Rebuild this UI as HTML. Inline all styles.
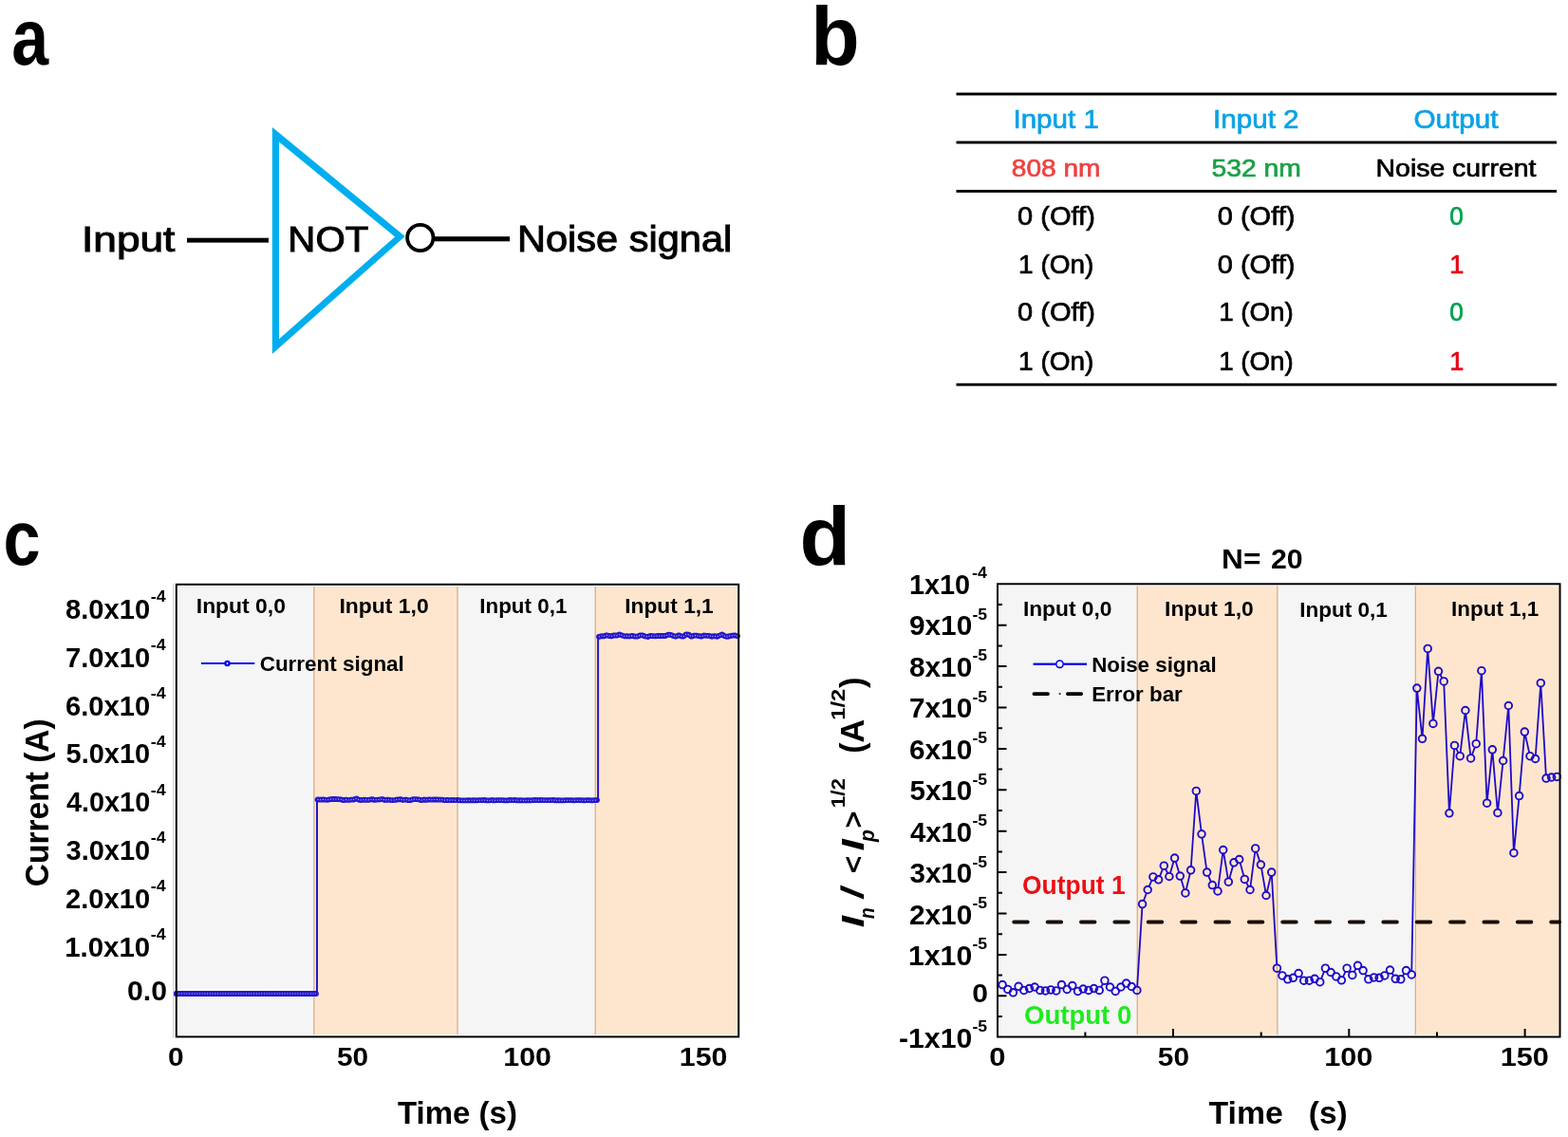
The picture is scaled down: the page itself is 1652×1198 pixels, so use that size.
<!DOCTYPE html>
<html><head><meta charset="utf-8"><title>NOT gate noise logic</title>
<style>html,body{margin:0;padding:0;background:#fff;}svg{display:block;}</style></head>
<body>
<svg width="1652" height="1198" viewBox="0 0 1652 1198" font-family='"Liberation Sans", Arial, sans-serif'>
<rect width="1652" height="1198" fill="#fff"/>
<path d="M286.8,134 L426.7,249 L286.8,373.1 Z M294,149.5 L294,357.3 L416.1,249.4 Z" fill="#00AEEF" fill-rule="evenodd"/>
<rect x="197" y="250.7" width="86" height="4.9" fill="#000"/>
<circle cx="442.8" cy="250.5" r="13.7" fill="none" stroke="#000" stroke-width="3.8"/>
<rect x="458" y="249.2" width="79" height="5.1" fill="#000"/>
<rect x="1007.5" y="97.6" width="632.5" height="2.9" fill="#000"/>
<rect x="1007.5" y="148.6" width="632.5" height="2.9" fill="#000"/>
<rect x="1007.5" y="200.0" width="632.5" height="2.9" fill="#000"/>
<rect x="1007.5" y="403.8" width="632.5" height="2.9" fill="#000"/>
<rect x="188.00" y="618.00" width="142.80" height="472.10" fill="#F5F5F5"/>
<rect x="330.80" y="618.00" width="151.20" height="472.10" fill="#FEE6CE"/>
<rect x="482.00" y="618.00" width="145.20" height="472.10" fill="#F5F5F5"/>
<rect x="627.20" y="618.00" width="149.80" height="472.10" fill="#FEE6CE"/>
<rect x="330.20" y="618.0" width="1.3" height="472.10000000000014" fill="#D9AF86"/>
<rect x="481.40" y="618.0" width="1.3" height="472.10000000000014" fill="#D9AF86"/>
<rect x="626.60" y="618.0" width="1.3" height="472.10000000000014" fill="#D9AF86"/>
<rect x="1053.20" y="617.50" width="145.00" height="472.70" fill="#F5F5F5"/>
<rect x="1198.20" y="617.50" width="147.50" height="472.70" fill="#FEE6CE"/>
<rect x="1345.70" y="617.50" width="145.60" height="472.70" fill="#F5F5F5"/>
<rect x="1491.30" y="617.50" width="151.00" height="472.70" fill="#FEE6CE"/>
<rect x="1197.60" y="617.5" width="1.3" height="472.70000000000005" fill="#D9AF86"/>
<rect x="1345.10" y="617.5" width="1.3" height="472.70000000000005" fill="#D9AF86"/>
<rect x="1490.70" y="617.5" width="1.3" height="472.70000000000005" fill="#D9AF86"/>
<polyline points="185.5,1047.0 188.2,1047.0 191.0,1047.0 193.7,1047.0 196.4,1047.0 199.2,1047.0 201.9,1047.0 204.6,1047.0 207.4,1047.0 210.1,1047.0 212.8,1047.0 215.5,1047.0 218.3,1047.0 221.0,1047.0 223.7,1047.0 226.5,1047.0 229.2,1047.0 231.9,1047.0 234.7,1047.0 237.4,1047.0 240.1,1047.0 242.9,1047.0 245.6,1047.0 248.3,1047.0 251.1,1047.0 253.8,1047.0 256.5,1047.0 259.2,1047.0 262.0,1047.0 264.7,1047.0 267.4,1047.0 270.2,1047.0 272.9,1047.0 275.6,1047.0 278.4,1047.0 281.1,1047.0 283.8,1047.0 286.6,1047.0 289.3,1047.0 292.0,1047.0 294.8,1047.0 297.5,1047.0 300.2,1047.0 303.0,1047.0 305.7,1047.0 308.4,1047.0 311.1,1047.0 313.9,1047.0 316.6,1047.0 319.3,1047.0 322.1,1047.0 324.8,1047.0 327.5,1047.0 330.3,1047.0 333.0,1047.0 334.0,1047.0 334.0,842.6 334.5,842.3 337.2,842.7 340.0,842.4 342.7,842.7 345.4,842.8 348.2,842.1 350.9,842.0 353.6,842.0 356.4,842.1 359.1,842.3 361.8,843.2 364.5,842.6 367.3,843.0 370.0,842.6 372.7,842.5 375.5,841.3 378.2,842.8 380.9,843.0 383.7,842.6 386.4,842.9 389.1,842.8 391.9,842.1 394.6,842.9 397.3,842.7 400.1,842.4 402.8,842.0 405.5,843.0 408.2,842.6 411.0,842.9 413.7,843.1 416.4,842.9 419.2,842.4 421.9,842.1 424.6,843.0 427.4,842.5 430.1,843.1 432.8,843.1 435.6,842.1 438.3,842.2 441.0,842.3 443.8,843.2 446.5,842.5 449.2,842.8 452.0,842.4 454.7,842.6 457.4,842.5 460.1,842.4 462.9,842.7 465.6,842.7 468.3,843.1 471.1,842.8 473.8,843.1 476.5,843.0 479.3,843.2 482.0,842.8 483.0,843.1 485.7,843.3 488.4,843.4 491.1,843.4 493.8,843.2 496.5,843.3 499.2,843.1 501.9,843.3 504.6,843.2 507.3,843.1 510.0,843.0 512.7,843.3 515.4,843.4 518.1,843.0 520.9,843.3 523.6,843.2 526.3,843.1 529.0,843.1 531.7,843.3 534.4,843.3 537.1,843.0 539.8,843.2 542.5,843.0 545.2,843.3 547.9,843.1 550.6,843.4 553.3,843.4 556.0,843.2 558.7,843.4 561.4,843.1 564.1,843.0 566.8,843.2 569.5,843.0 572.2,843.1 574.9,843.2 577.6,843.2 580.3,843.1 583.0,843.0 585.7,843.3 588.4,843.1 591.1,843.4 593.9,843.4 596.6,843.2 599.3,843.2 602.0,843.2 604.7,843.3 607.4,843.2 610.1,843.2 612.8,843.2 615.5,843.4 618.2,843.2 620.9,843.2 623.6,843.3 626.3,843.1 629.0,843.1 630.1,843.2 630.1,670.2 631.0,671.1 633.7,670.2 636.4,670.3 639.1,669.3 641.8,670.0 644.5,670.3 647.2,669.3 649.9,669.6 652.6,668.5 655.3,669.4 658.0,670.4 660.7,670.1 663.4,670.5 666.1,669.9 668.9,670.6 671.6,670.6 674.3,669.3 677.0,669.4 679.7,670.5 682.4,671.0 685.1,669.8 687.8,670.1 690.5,670.4 693.2,669.9 695.9,670.0 698.6,669.9 701.3,670.0 704.0,668.7 706.7,668.8 709.4,670.0 712.1,670.7 714.8,669.3 717.5,670.3 720.2,670.6 722.9,668.3 725.6,668.6 728.3,670.7 731.0,669.7 733.7,669.6 736.4,670.1 739.1,670.6 741.9,669.5 744.6,669.9 747.3,669.9 750.0,670.8 752.7,670.1 755.4,670.8 758.1,669.6 760.8,668.5 763.5,670.2 766.2,670.9 768.9,670.1 771.6,669.7 774.3,669.5 777.0,670.3" fill="none" stroke="#2418CC" stroke-width="2"/>
<polyline points="185.5,1047.0 188.2,1047.0 191.0,1047.0 193.7,1047.0 196.4,1047.0 199.2,1047.0 201.9,1047.0 204.6,1047.0 207.4,1047.0 210.1,1047.0 212.8,1047.0 215.5,1047.0 218.3,1047.0 221.0,1047.0 223.7,1047.0 226.5,1047.0 229.2,1047.0 231.9,1047.0 234.7,1047.0 237.4,1047.0 240.1,1047.0 242.9,1047.0 245.6,1047.0 248.3,1047.0 251.1,1047.0 253.8,1047.0 256.5,1047.0 259.2,1047.0 262.0,1047.0 264.7,1047.0 267.4,1047.0 270.2,1047.0 272.9,1047.0 275.6,1047.0 278.4,1047.0 281.1,1047.0 283.8,1047.0 286.6,1047.0 289.3,1047.0 292.0,1047.0 294.8,1047.0 297.5,1047.0 300.2,1047.0 303.0,1047.0 305.7,1047.0 308.4,1047.0 311.1,1047.0 313.9,1047.0 316.6,1047.0 319.3,1047.0 322.1,1047.0 324.8,1047.0 327.5,1047.0 330.3,1047.0 333.0,1047.0" fill="none" stroke="#2418CC" stroke-width="5.8" stroke-linecap="round" stroke-linejoin="round"/>
<polyline points="185.5,1047.0 188.2,1047.0 191.0,1047.0 193.7,1047.0 196.4,1047.0 199.2,1047.0 201.9,1047.0 204.6,1047.0 207.4,1047.0 210.1,1047.0 212.8,1047.0 215.5,1047.0 218.3,1047.0 221.0,1047.0 223.7,1047.0 226.5,1047.0 229.2,1047.0 231.9,1047.0 234.7,1047.0 237.4,1047.0 240.1,1047.0 242.9,1047.0 245.6,1047.0 248.3,1047.0 251.1,1047.0 253.8,1047.0 256.5,1047.0 259.2,1047.0 262.0,1047.0 264.7,1047.0 267.4,1047.0 270.2,1047.0 272.9,1047.0 275.6,1047.0 278.4,1047.0 281.1,1047.0 283.8,1047.0 286.6,1047.0 289.3,1047.0 292.0,1047.0 294.8,1047.0 297.5,1047.0 300.2,1047.0 303.0,1047.0 305.7,1047.0 308.4,1047.0 311.1,1047.0 313.9,1047.0 316.6,1047.0 319.3,1047.0 322.1,1047.0 324.8,1047.0 327.5,1047.0 330.3,1047.0 333.0,1047.0" fill="none" stroke="#fff" stroke-opacity="0.75" stroke-width="1.1" stroke-dasharray="1 1.72"/>
<polyline points="334.5,842.3 337.2,842.7 340.0,842.4 342.7,842.7 345.4,842.8 348.2,842.1 350.9,842.0 353.6,842.0 356.4,842.1 359.1,842.3 361.8,843.2 364.5,842.6 367.3,843.0 370.0,842.6 372.7,842.5 375.5,841.3 378.2,842.8 380.9,843.0 383.7,842.6 386.4,842.9 389.1,842.8 391.9,842.1 394.6,842.9 397.3,842.7 400.1,842.4 402.8,842.0 405.5,843.0 408.2,842.6 411.0,842.9 413.7,843.1 416.4,842.9 419.2,842.4 421.9,842.1 424.6,843.0 427.4,842.5 430.1,843.1 432.8,843.1 435.6,842.1 438.3,842.2 441.0,842.3 443.8,843.2 446.5,842.5 449.2,842.8 452.0,842.4 454.7,842.6 457.4,842.5 460.1,842.4 462.9,842.7 465.6,842.7 468.3,843.1 471.1,842.8 473.8,843.1 476.5,843.0 479.3,843.2 482.0,842.8" fill="none" stroke="#2418CC" stroke-width="5.8" stroke-linecap="round" stroke-linejoin="round"/>
<polyline points="334.5,842.3 337.2,842.7 340.0,842.4 342.7,842.7 345.4,842.8 348.2,842.1 350.9,842.0 353.6,842.0 356.4,842.1 359.1,842.3 361.8,843.2 364.5,842.6 367.3,843.0 370.0,842.6 372.7,842.5 375.5,841.3 378.2,842.8 380.9,843.0 383.7,842.6 386.4,842.9 389.1,842.8 391.9,842.1 394.6,842.9 397.3,842.7 400.1,842.4 402.8,842.0 405.5,843.0 408.2,842.6 411.0,842.9 413.7,843.1 416.4,842.9 419.2,842.4 421.9,842.1 424.6,843.0 427.4,842.5 430.1,843.1 432.8,843.1 435.6,842.1 438.3,842.2 441.0,842.3 443.8,843.2 446.5,842.5 449.2,842.8 452.0,842.4 454.7,842.6 457.4,842.5 460.1,842.4 462.9,842.7 465.6,842.7 468.3,843.1 471.1,842.8 473.8,843.1 476.5,843.0 479.3,843.2 482.0,842.8" fill="none" stroke="#fff" stroke-opacity="0.75" stroke-width="1.1" stroke-dasharray="1 1.72"/>
<polyline points="483.0,843.1 485.7,843.3 488.4,843.4 491.1,843.4 493.8,843.2 496.5,843.3 499.2,843.1 501.9,843.3 504.6,843.2 507.3,843.1 510.0,843.0 512.7,843.3 515.4,843.4 518.1,843.0 520.9,843.3 523.6,843.2 526.3,843.1 529.0,843.1 531.7,843.3 534.4,843.3 537.1,843.0 539.8,843.2 542.5,843.0 545.2,843.3 547.9,843.1 550.6,843.4 553.3,843.4 556.0,843.2 558.7,843.4 561.4,843.1 564.1,843.0 566.8,843.2 569.5,843.0 572.2,843.1 574.9,843.2 577.6,843.2 580.3,843.1 583.0,843.0 585.7,843.3 588.4,843.1 591.1,843.4 593.9,843.4 596.6,843.2 599.3,843.2 602.0,843.2 604.7,843.3 607.4,843.2 610.1,843.2 612.8,843.2 615.5,843.4 618.2,843.2 620.9,843.2 623.6,843.3 626.3,843.1 629.0,843.1" fill="none" stroke="#2418CC" stroke-width="5.8" stroke-linecap="round" stroke-linejoin="round"/>
<polyline points="483.0,843.1 485.7,843.3 488.4,843.4 491.1,843.4 493.8,843.2 496.5,843.3 499.2,843.1 501.9,843.3 504.6,843.2 507.3,843.1 510.0,843.0 512.7,843.3 515.4,843.4 518.1,843.0 520.9,843.3 523.6,843.2 526.3,843.1 529.0,843.1 531.7,843.3 534.4,843.3 537.1,843.0 539.8,843.2 542.5,843.0 545.2,843.3 547.9,843.1 550.6,843.4 553.3,843.4 556.0,843.2 558.7,843.4 561.4,843.1 564.1,843.0 566.8,843.2 569.5,843.0 572.2,843.1 574.9,843.2 577.6,843.2 580.3,843.1 583.0,843.0 585.7,843.3 588.4,843.1 591.1,843.4 593.9,843.4 596.6,843.2 599.3,843.2 602.0,843.2 604.7,843.3 607.4,843.2 610.1,843.2 612.8,843.2 615.5,843.4 618.2,843.2 620.9,843.2 623.6,843.3 626.3,843.1 629.0,843.1" fill="none" stroke="#fff" stroke-opacity="0.75" stroke-width="1.1" stroke-dasharray="1 1.72"/>
<polyline points="631.0,671.1 633.7,670.2 636.4,670.3 639.1,669.3 641.8,670.0 644.5,670.3 647.2,669.3 649.9,669.6 652.6,668.5 655.3,669.4 658.0,670.4 660.7,670.1 663.4,670.5 666.1,669.9 668.9,670.6 671.6,670.6 674.3,669.3 677.0,669.4 679.7,670.5 682.4,671.0 685.1,669.8 687.8,670.1 690.5,670.4 693.2,669.9 695.9,670.0 698.6,669.9 701.3,670.0 704.0,668.7 706.7,668.8 709.4,670.0 712.1,670.7 714.8,669.3 717.5,670.3 720.2,670.6 722.9,668.3 725.6,668.6 728.3,670.7 731.0,669.7 733.7,669.6 736.4,670.1 739.1,670.6 741.9,669.5 744.6,669.9 747.3,669.9 750.0,670.8 752.7,670.1 755.4,670.8 758.1,669.6 760.8,668.5 763.5,670.2 766.2,670.9 768.9,670.1 771.6,669.7 774.3,669.5 777.0,670.3" fill="none" stroke="#2418CC" stroke-width="5.8" stroke-linecap="round" stroke-linejoin="round"/>
<polyline points="631.0,671.1 633.7,670.2 636.4,670.3 639.1,669.3 641.8,670.0 644.5,670.3 647.2,669.3 649.9,669.6 652.6,668.5 655.3,669.4 658.0,670.4 660.7,670.1 663.4,670.5 666.1,669.9 668.9,670.6 671.6,670.6 674.3,669.3 677.0,669.4 679.7,670.5 682.4,671.0 685.1,669.8 687.8,670.1 690.5,670.4 693.2,669.9 695.9,670.0 698.6,669.9 701.3,670.0 704.0,668.7 706.7,668.8 709.4,670.0 712.1,670.7 714.8,669.3 717.5,670.3 720.2,670.6 722.9,668.3 725.6,668.6 728.3,670.7 731.0,669.7 733.7,669.6 736.4,670.1 739.1,670.6 741.9,669.5 744.6,669.9 747.3,669.9 750.0,670.8 752.7,670.1 755.4,670.8 758.1,669.6 760.8,668.5 763.5,670.2 766.2,670.9 768.9,670.1 771.6,669.7 774.3,669.5 777.0,670.3" fill="none" stroke="#fff" stroke-opacity="0.75" stroke-width="1.1" stroke-dasharray="1 1.72"/>
<rect x="211.9" y="698" width="56.4" height="1.9" fill="#0000F0"/>
<circle cx="239.5" cy="698.9" r="2.1" fill="#fff" stroke="#0000F0" stroke-width="2.3"/>
<path d="M1051,1071.0h5 M1051,1049.3h9.5 M1051,1027.6h5 M1051,1005.9h9.5 M1051,984.2h5 M1051,962.5h9.5 M1051,940.8h5 M1051,919.1h9.5 M1051,897.4h5 M1051,875.7h9.5 M1051,854.0h5 M1051,832.3h9.5 M1051,810.6h5 M1051,788.9h9.5 M1051,767.2h5 M1051,745.5h9.5 M1051,723.8h5 M1051,702.1h9.5 M1051,680.4h5 M1051,658.7h9.5 M1051,637.0h5 M1143.4,1092.5v-5 M1236.0,1092.5v-8.5 M1328.7,1092.5v-5 M1421.3,1092.5v-8.5 M1514.0,1092.5v-5 M1606.6,1092.5v-8.5" stroke="#000" stroke-width="2" fill="none"/>
<line x1="1068.2" y1="971.5" x2="1643" y2="971.5" stroke="#1a0d05" stroke-width="3.8" stroke-linecap="round" stroke-dasharray="14.6 20.77"/>
<mask id="m" maskUnits="userSpaceOnUse" x="1040" y="600" width="612" height="500"><rect x="1040" y="600" width="612" height="500" fill="#fff"/><circle cx="1056.1" cy="1037.6" r="3.8" fill="#000"/><circle cx="1061.8" cy="1042.4" r="3.8" fill="#000"/><circle cx="1067.4" cy="1045.8" r="3.8" fill="#000"/><circle cx="1073.1" cy="1039.3" r="3.8" fill="#000"/><circle cx="1078.8" cy="1043.4" r="3.8" fill="#000"/><circle cx="1084.5" cy="1041.5" r="3.8" fill="#000"/><circle cx="1090.1" cy="1040.0" r="3.8" fill="#000"/><circle cx="1095.8" cy="1043.4" r="3.8" fill="#000"/><circle cx="1101.5" cy="1043.9" r="3.8" fill="#000"/><circle cx="1107.1" cy="1042.9" r="3.8" fill="#000"/><circle cx="1112.8" cy="1043.9" r="3.8" fill="#000"/><circle cx="1118.5" cy="1037.6" r="3.8" fill="#000"/><circle cx="1124.2" cy="1042.4" r="3.8" fill="#000"/><circle cx="1129.8" cy="1038.6" r="3.8" fill="#000"/><circle cx="1135.5" cy="1044.4" r="3.8" fill="#000"/><circle cx="1141.2" cy="1042.0" r="3.8" fill="#000"/><circle cx="1146.9" cy="1043.4" r="3.8" fill="#000"/><circle cx="1152.5" cy="1041.5" r="3.8" fill="#000"/><circle cx="1158.2" cy="1043.4" r="3.8" fill="#000"/><circle cx="1163.9" cy="1033.2" r="3.8" fill="#000"/><circle cx="1169.5" cy="1040.0" r="3.8" fill="#000"/><circle cx="1175.2" cy="1044.4" r="3.8" fill="#000"/><circle cx="1180.9" cy="1040.0" r="3.8" fill="#000"/><circle cx="1186.6" cy="1036.1" r="3.8" fill="#000"/><circle cx="1192.2" cy="1039.5" r="3.8" fill="#000"/><circle cx="1197.9" cy="1043.4" r="3.8" fill="#000"/><circle cx="1203.6" cy="952.6" r="3.8" fill="#000"/><circle cx="1209.2" cy="937.5" r="3.8" fill="#000"/><circle cx="1214.9" cy="923.9" r="3.8" fill="#000"/><circle cx="1220.6" cy="926.8" r="3.8" fill="#000"/><circle cx="1226.3" cy="912.2" r="3.8" fill="#000"/><circle cx="1231.9" cy="923.5" r="3.8" fill="#000"/><circle cx="1237.6" cy="904.1" r="3.8" fill="#000"/><circle cx="1243.3" cy="923.1" r="3.8" fill="#000"/><circle cx="1248.9" cy="940.9" r="3.8" fill="#000"/><circle cx="1254.6" cy="916.8" r="3.8" fill="#000"/><circle cx="1260.3" cy="833.4" r="3.8" fill="#000"/><circle cx="1266.0" cy="878.8" r="3.8" fill="#000"/><circle cx="1271.6" cy="919.1" r="3.8" fill="#000"/><circle cx="1277.3" cy="932.6" r="3.8" fill="#000"/><circle cx="1283.0" cy="938.9" r="3.8" fill="#000"/><circle cx="1288.7" cy="895.5" r="3.8" fill="#000"/><circle cx="1294.3" cy="929.2" r="3.8" fill="#000"/><circle cx="1300.0" cy="908.8" r="3.8" fill="#000"/><circle cx="1305.7" cy="905.5" r="3.8" fill="#000"/><circle cx="1311.3" cy="926.4" r="3.8" fill="#000"/><circle cx="1317.0" cy="937.5" r="3.8" fill="#000"/><circle cx="1322.7" cy="893.9" r="3.8" fill="#000"/><circle cx="1328.4" cy="911.1" r="3.8" fill="#000"/><circle cx="1334.0" cy="943.5" r="3.8" fill="#000"/><circle cx="1339.7" cy="919.1" r="3.8" fill="#000"/><circle cx="1345.4" cy="1020.2" r="3.8" fill="#000"/><circle cx="1351.0" cy="1027.9" r="3.8" fill="#000"/><circle cx="1356.7" cy="1031.8" r="3.8" fill="#000"/><circle cx="1362.4" cy="1030.3" r="3.8" fill="#000"/><circle cx="1368.1" cy="1025.5" r="3.8" fill="#000"/><circle cx="1373.7" cy="1033.2" r="3.8" fill="#000"/><circle cx="1379.4" cy="1033.2" r="3.8" fill="#000"/><circle cx="1385.1" cy="1031.3" r="3.8" fill="#000"/><circle cx="1390.7" cy="1034.7" r="3.8" fill="#000"/><circle cx="1396.4" cy="1020.2" r="3.8" fill="#000"/><circle cx="1402.1" cy="1024.5" r="3.8" fill="#000"/><circle cx="1407.8" cy="1028.9" r="3.8" fill="#000"/><circle cx="1413.4" cy="1032.8" r="3.8" fill="#000"/><circle cx="1419.1" cy="1020.2" r="3.8" fill="#000"/><circle cx="1424.8" cy="1027.4" r="3.8" fill="#000"/><circle cx="1430.5" cy="1017.3" r="3.8" fill="#000"/><circle cx="1436.1" cy="1022.6" r="3.8" fill="#000"/><circle cx="1441.8" cy="1031.8" r="3.8" fill="#000"/><circle cx="1447.5" cy="1029.9" r="3.8" fill="#000"/><circle cx="1453.1" cy="1030.3" r="3.8" fill="#000"/><circle cx="1458.8" cy="1027.9" r="3.8" fill="#000"/><circle cx="1464.5" cy="1022.1" r="3.8" fill="#000"/><circle cx="1470.2" cy="1031.3" r="3.8" fill="#000"/><circle cx="1475.8" cy="1031.8" r="3.8" fill="#000"/><circle cx="1481.5" cy="1022.6" r="3.8" fill="#000"/><circle cx="1487.2" cy="1026.9" r="3.8" fill="#000"/><circle cx="1492.8" cy="725.1" r="3.8" fill="#000"/><circle cx="1498.5" cy="778.3" r="3.8" fill="#000"/><circle cx="1504.2" cy="683.4" r="3.8" fill="#000"/><circle cx="1509.9" cy="762.4" r="3.8" fill="#000"/><circle cx="1515.5" cy="707.3" r="3.8" fill="#000"/><circle cx="1521.2" cy="717.9" r="3.8" fill="#000"/><circle cx="1526.9" cy="856.8" r="3.8" fill="#000"/><circle cx="1532.5" cy="785.4" r="3.8" fill="#000"/><circle cx="1538.2" cy="796.7" r="3.8" fill="#000"/><circle cx="1543.9" cy="748.5" r="3.8" fill="#000"/><circle cx="1549.6" cy="798.9" r="3.8" fill="#000"/><circle cx="1555.2" cy="783.7" r="3.8" fill="#000"/><circle cx="1560.9" cy="706.7" r="3.8" fill="#000"/><circle cx="1566.6" cy="846.2" r="3.8" fill="#000"/><circle cx="1572.3" cy="789.8" r="3.8" fill="#000"/><circle cx="1577.9" cy="856.4" r="3.8" fill="#000"/><circle cx="1583.6" cy="801.5" r="3.8" fill="#000"/><circle cx="1589.3" cy="743.5" r="3.8" fill="#000"/><circle cx="1594.9" cy="898.7" r="3.8" fill="#000"/><circle cx="1600.6" cy="838.6" r="3.8" fill="#000"/><circle cx="1606.3" cy="771.1" r="3.8" fill="#000"/><circle cx="1612.0" cy="796.7" r="3.8" fill="#000"/><circle cx="1617.6" cy="799.5" r="3.8" fill="#000"/><circle cx="1623.3" cy="719.7" r="3.8" fill="#000"/><circle cx="1629.0" cy="820.1" r="3.8" fill="#000"/><circle cx="1634.6" cy="819.0" r="3.8" fill="#000"/><circle cx="1640.3" cy="818.4" r="3.8" fill="#000"/></mask>
<polyline points="1056.1,1037.6 1061.8,1042.4 1067.4,1045.8 1073.1,1039.3 1078.8,1043.4 1084.5,1041.5 1090.1,1040.0 1095.8,1043.4 1101.5,1043.9 1107.1,1042.9 1112.8,1043.9 1118.5,1037.6 1124.2,1042.4 1129.8,1038.6 1135.5,1044.4 1141.2,1042.0 1146.9,1043.4 1152.5,1041.5 1158.2,1043.4 1163.9,1033.2 1169.5,1040.0 1175.2,1044.4 1180.9,1040.0 1186.6,1036.1 1192.2,1039.5 1197.9,1043.4 1203.6,952.6 1209.2,937.5 1214.9,923.9 1220.6,926.8 1226.3,912.2 1231.9,923.5 1237.6,904.1 1243.3,923.1 1248.9,940.9 1254.6,916.8 1260.3,833.4 1266.0,878.8 1271.6,919.1 1277.3,932.6 1283.0,938.9 1288.7,895.5 1294.3,929.2 1300.0,908.8 1305.7,905.5 1311.3,926.4 1317.0,937.5 1322.7,893.9 1328.4,911.1 1334.0,943.5 1339.7,919.1 1345.4,1020.2 1351.0,1027.9 1356.7,1031.8 1362.4,1030.3 1368.1,1025.5 1373.7,1033.2 1379.4,1033.2 1385.1,1031.3 1390.7,1034.7 1396.4,1020.2 1402.1,1024.5 1407.8,1028.9 1413.4,1032.8 1419.1,1020.2 1424.8,1027.4 1430.5,1017.3 1436.1,1022.6 1441.8,1031.8 1447.5,1029.9 1453.1,1030.3 1458.8,1027.9 1464.5,1022.1 1470.2,1031.3 1475.8,1031.8 1481.5,1022.6 1487.2,1026.9 1492.8,725.1 1498.5,778.3 1504.2,683.4 1509.9,762.4 1515.5,707.3 1521.2,717.9 1526.9,856.8 1532.5,785.4 1538.2,796.7 1543.9,748.5 1549.6,798.9 1555.2,783.7 1560.9,706.7 1566.6,846.2 1572.3,789.8 1577.9,856.4 1583.6,801.5 1589.3,743.5 1594.9,898.7 1600.6,838.6 1606.3,771.1 1612.0,796.7 1617.6,799.5 1623.3,719.7 1629.0,820.1 1634.6,819.0 1640.3,818.4" fill="none" stroke="#1E0AC8" stroke-width="1.8" stroke-linejoin="round" mask="url(#m)"/>
<g fill="none" stroke="#1E0AC8" stroke-width="1.9"><circle cx="1056.1" cy="1037.6" r="3.8"/><circle cx="1061.8" cy="1042.4" r="3.8"/><circle cx="1067.4" cy="1045.8" r="3.8"/><circle cx="1073.1" cy="1039.3" r="3.8"/><circle cx="1078.8" cy="1043.4" r="3.8"/><circle cx="1084.5" cy="1041.5" r="3.8"/><circle cx="1090.1" cy="1040.0" r="3.8"/><circle cx="1095.8" cy="1043.4" r="3.8"/><circle cx="1101.5" cy="1043.9" r="3.8"/><circle cx="1107.1" cy="1042.9" r="3.8"/><circle cx="1112.8" cy="1043.9" r="3.8"/><circle cx="1118.5" cy="1037.6" r="3.8"/><circle cx="1124.2" cy="1042.4" r="3.8"/><circle cx="1129.8" cy="1038.6" r="3.8"/><circle cx="1135.5" cy="1044.4" r="3.8"/><circle cx="1141.2" cy="1042.0" r="3.8"/><circle cx="1146.9" cy="1043.4" r="3.8"/><circle cx="1152.5" cy="1041.5" r="3.8"/><circle cx="1158.2" cy="1043.4" r="3.8"/><circle cx="1163.9" cy="1033.2" r="3.8"/><circle cx="1169.5" cy="1040.0" r="3.8"/><circle cx="1175.2" cy="1044.4" r="3.8"/><circle cx="1180.9" cy="1040.0" r="3.8"/><circle cx="1186.6" cy="1036.1" r="3.8"/><circle cx="1192.2" cy="1039.5" r="3.8"/><circle cx="1197.9" cy="1043.4" r="3.8"/><circle cx="1203.6" cy="952.6" r="3.8"/><circle cx="1209.2" cy="937.5" r="3.8"/><circle cx="1214.9" cy="923.9" r="3.8"/><circle cx="1220.6" cy="926.8" r="3.8"/><circle cx="1226.3" cy="912.2" r="3.8"/><circle cx="1231.9" cy="923.5" r="3.8"/><circle cx="1237.6" cy="904.1" r="3.8"/><circle cx="1243.3" cy="923.1" r="3.8"/><circle cx="1248.9" cy="940.9" r="3.8"/><circle cx="1254.6" cy="916.8" r="3.8"/><circle cx="1260.3" cy="833.4" r="3.8"/><circle cx="1266.0" cy="878.8" r="3.8"/><circle cx="1271.6" cy="919.1" r="3.8"/><circle cx="1277.3" cy="932.6" r="3.8"/><circle cx="1283.0" cy="938.9" r="3.8"/><circle cx="1288.7" cy="895.5" r="3.8"/><circle cx="1294.3" cy="929.2" r="3.8"/><circle cx="1300.0" cy="908.8" r="3.8"/><circle cx="1305.7" cy="905.5" r="3.8"/><circle cx="1311.3" cy="926.4" r="3.8"/><circle cx="1317.0" cy="937.5" r="3.8"/><circle cx="1322.7" cy="893.9" r="3.8"/><circle cx="1328.4" cy="911.1" r="3.8"/><circle cx="1334.0" cy="943.5" r="3.8"/><circle cx="1339.7" cy="919.1" r="3.8"/><circle cx="1345.4" cy="1020.2" r="3.8"/><circle cx="1351.0" cy="1027.9" r="3.8"/><circle cx="1356.7" cy="1031.8" r="3.8"/><circle cx="1362.4" cy="1030.3" r="3.8"/><circle cx="1368.1" cy="1025.5" r="3.8"/><circle cx="1373.7" cy="1033.2" r="3.8"/><circle cx="1379.4" cy="1033.2" r="3.8"/><circle cx="1385.1" cy="1031.3" r="3.8"/><circle cx="1390.7" cy="1034.7" r="3.8"/><circle cx="1396.4" cy="1020.2" r="3.8"/><circle cx="1402.1" cy="1024.5" r="3.8"/><circle cx="1407.8" cy="1028.9" r="3.8"/><circle cx="1413.4" cy="1032.8" r="3.8"/><circle cx="1419.1" cy="1020.2" r="3.8"/><circle cx="1424.8" cy="1027.4" r="3.8"/><circle cx="1430.5" cy="1017.3" r="3.8"/><circle cx="1436.1" cy="1022.6" r="3.8"/><circle cx="1441.8" cy="1031.8" r="3.8"/><circle cx="1447.5" cy="1029.9" r="3.8"/><circle cx="1453.1" cy="1030.3" r="3.8"/><circle cx="1458.8" cy="1027.9" r="3.8"/><circle cx="1464.5" cy="1022.1" r="3.8"/><circle cx="1470.2" cy="1031.3" r="3.8"/><circle cx="1475.8" cy="1031.8" r="3.8"/><circle cx="1481.5" cy="1022.6" r="3.8"/><circle cx="1487.2" cy="1026.9" r="3.8"/><circle cx="1492.8" cy="725.1" r="3.8"/><circle cx="1498.5" cy="778.3" r="3.8"/><circle cx="1504.2" cy="683.4" r="3.8"/><circle cx="1509.9" cy="762.4" r="3.8"/><circle cx="1515.5" cy="707.3" r="3.8"/><circle cx="1521.2" cy="717.9" r="3.8"/><circle cx="1526.9" cy="856.8" r="3.8"/><circle cx="1532.5" cy="785.4" r="3.8"/><circle cx="1538.2" cy="796.7" r="3.8"/><circle cx="1543.9" cy="748.5" r="3.8"/><circle cx="1549.6" cy="798.9" r="3.8"/><circle cx="1555.2" cy="783.7" r="3.8"/><circle cx="1560.9" cy="706.7" r="3.8"/><circle cx="1566.6" cy="846.2" r="3.8"/><circle cx="1572.3" cy="789.8" r="3.8"/><circle cx="1577.9" cy="856.4" r="3.8"/><circle cx="1583.6" cy="801.5" r="3.8"/><circle cx="1589.3" cy="743.5" r="3.8"/><circle cx="1594.9" cy="898.7" r="3.8"/><circle cx="1600.6" cy="838.6" r="3.8"/><circle cx="1606.3" cy="771.1" r="3.8"/><circle cx="1612.0" cy="796.7" r="3.8"/><circle cx="1617.6" cy="799.5" r="3.8"/><circle cx="1623.3" cy="719.7" r="3.8"/><circle cx="1629.0" cy="820.1" r="3.8"/><circle cx="1634.6" cy="819.0" r="3.8"/><circle cx="1640.3" cy="818.4" r="3.8"/></g>
<rect x="1088.5" y="698.6" width="23.6" height="2.2" fill="#0000F0"/><rect x="1121" y="698.6" width="24" height="2.2" fill="#0000F0"/>
<circle cx="1116.5" cy="699.7" r="3.7" fill="none" stroke="#0000F0" stroke-width="1.6"/>
<path d="M1089.4,731.1H1104.1M1124.9,731.1H1139.2" stroke="#000" stroke-width="3.7" stroke-linecap="round"/><circle cx="1116.6" cy="731.1" r="1.1" fill="#333"/>
<rect x="185.8" y="615.8" width="592.4000000000001" height="476.60000000000014" fill="none" stroke="#000" stroke-width="2"/>
<rect x="182" y="614.8" width="1.1" height="479" fill="#d2d2d2"/>
<rect x="1051.0" y="615.3" width="592.5" height="477.20000000000005" fill="none" stroke="#000" stroke-width="2"/>
<text x="12.21" y="67.60" font-size="84.00" font-weight="bold" textLength="38.85" lengthAdjust="spacingAndGlyphs">a</text>
<text x="854.34" y="67.60" font-size="87.00" font-weight="bold" textLength="51.41" lengthAdjust="spacingAndGlyphs">b</text>
<text x="3.41" y="594.60" font-size="82.00" font-weight="bold" textLength="39.04" lengthAdjust="spacingAndGlyphs">c</text>
<text x="842.56" y="594.60" font-size="87.00" font-weight="bold" textLength="53.55" lengthAdjust="spacingAndGlyphs">d</text>
<text x="86.05" y="264.80" font-size="37.26" stroke="#000" stroke-width="1.0" textLength="98.30" lengthAdjust="spacingAndGlyphs">Input</text>
<text x="303.36" y="264.80" font-size="37.26" stroke="#000" stroke-width="1.0" textLength="84.83" lengthAdjust="spacingAndGlyphs">NOT</text>
<text x="544.95" y="265.10" font-size="39.25" stroke="#000" stroke-width="1.0" textLength="226.28" lengthAdjust="spacingAndGlyphs">Noise signal</text>
<text x="1067.44" y="135.15" font-size="27.59" fill="#0AA2E4" stroke="#0AA2E4" stroke-width="0.7" textLength="90.41" lengthAdjust="spacingAndGlyphs">Input 1</text>
<text x="1278.04" y="135.15" font-size="27.59" fill="#0AA2E4" stroke="#0AA2E4" stroke-width="0.7" textLength="90.51" lengthAdjust="spacingAndGlyphs">Input 2</text>
<text x="1489.56" y="135.15" font-size="27.59" fill="#0AA2E4" stroke="#0AA2E4" stroke-width="0.7" textLength="88.99" lengthAdjust="spacingAndGlyphs">Output</text>
<text x="1065.87" y="185.85" font-size="26.31" fill="#EE4242" stroke="#EE4242" stroke-width="0.7" textLength="93.63" lengthAdjust="spacingAndGlyphs">808 nm</text>
<text x="1276.47" y="185.85" font-size="26.31" fill="#1BA048" stroke="#1BA048" stroke-width="0.7" textLength="94.35" lengthAdjust="spacingAndGlyphs">532 nm</text>
<text x="1449.63" y="185.85" font-size="26.17" stroke="#000" stroke-width="0.7" textLength="168.72" lengthAdjust="spacingAndGlyphs">Noise current</text>
<text x="1072.14" y="236.65" font-size="26.88" stroke="#000" stroke-width="0.7" textLength="81.71" lengthAdjust="spacingAndGlyphs">0 (Off)</text>
<text x="1282.85" y="236.65" font-size="26.88" stroke="#000" stroke-width="0.7" textLength="81.50" lengthAdjust="spacingAndGlyphs">0 (Off)</text>
<text x="1527.33" y="236.65" font-size="26.88" fill="#00A04E" stroke="#00A04E" stroke-width="0.7" textLength="14.57" lengthAdjust="spacingAndGlyphs">0</text>
<text x="1073.10" y="287.95" font-size="26.88" stroke="#000" stroke-width="0.7" textLength="79.19" lengthAdjust="spacingAndGlyphs">1 (On)</text>
<text x="1282.85" y="287.95" font-size="26.88" stroke="#000" stroke-width="0.7" textLength="81.50" lengthAdjust="spacingAndGlyphs">0 (Off)</text>
<text x="1527.25" y="287.95" font-size="26.88" fill="#E60012" stroke="#E60012" stroke-width="0.7" textLength="15.10" lengthAdjust="spacingAndGlyphs">1</text>
<text x="1072.14" y="338.45" font-size="26.88" stroke="#000" stroke-width="0.7" textLength="81.71" lengthAdjust="spacingAndGlyphs">0 (Off)</text>
<text x="1284.22" y="338.45" font-size="26.88" stroke="#000" stroke-width="0.7" textLength="78.46" lengthAdjust="spacingAndGlyphs">1 (On)</text>
<text x="1527.33" y="338.45" font-size="26.88" fill="#00A04E" stroke="#00A04E" stroke-width="0.7" textLength="14.57" lengthAdjust="spacingAndGlyphs">0</text>
<text x="1073.10" y="389.65" font-size="26.88" stroke="#000" stroke-width="0.7" textLength="79.19" lengthAdjust="spacingAndGlyphs">1 (On)</text>
<text x="1284.22" y="389.65" font-size="26.88" stroke="#000" stroke-width="0.7" textLength="78.46" lengthAdjust="spacingAndGlyphs">1 (On)</text>
<text x="1527.25" y="389.65" font-size="26.88" fill="#E60012" stroke="#E60012" stroke-width="0.7" textLength="15.10" lengthAdjust="spacingAndGlyphs">1</text>
<text x="206.77" y="646.30" font-size="22.19" font-weight="bold" textLength="94.16" lengthAdjust="spacingAndGlyphs">Input 0,0</text>
<text x="357.47" y="646.30" font-size="22.19" font-weight="bold" textLength="94.26" lengthAdjust="spacingAndGlyphs">Input 1,0</text>
<text x="505.30" y="646.30" font-size="22.19" font-weight="bold" textLength="92.06" lengthAdjust="spacingAndGlyphs">Input 0,1</text>
<text x="658.28" y="646.30" font-size="22.19" font-weight="bold" textLength="93.49" lengthAdjust="spacingAndGlyphs">Input 1,1</text>
<text x="273.70" y="707.30" font-size="22.76" font-weight="bold" textLength="152.13" lengthAdjust="spacingAndGlyphs">Current signal</text>
<text x="68.16" y="1007.70" font-size="29.58" font-weight="bold" textLength="90.03" lengthAdjust="spacingAndGlyphs">1.0x10</text>
<text x="158.84" y="990.10" font-size="16.92" font-weight="bold" textLength="15.95" lengthAdjust="spacingAndGlyphs">-4</text>
<text x="69.09" y="956.89" font-size="29.58" font-weight="bold" textLength="89.09" lengthAdjust="spacingAndGlyphs">2.0x10</text>
<text x="158.84" y="939.29" font-size="16.92" font-weight="bold" textLength="15.95" lengthAdjust="spacingAndGlyphs">-4</text>
<text x="69.55" y="906.08" font-size="29.58" font-weight="bold" textLength="88.63" lengthAdjust="spacingAndGlyphs">3.0x10</text>
<text x="158.84" y="888.48" font-size="16.92" font-weight="bold" textLength="15.95" lengthAdjust="spacingAndGlyphs">-4</text>
<text x="70.00" y="855.27" font-size="29.58" font-weight="bold" textLength="88.17" lengthAdjust="spacingAndGlyphs">4.0x10</text>
<text x="158.84" y="837.67" font-size="16.92" font-weight="bold" textLength="15.95" lengthAdjust="spacingAndGlyphs">-4</text>
<text x="69.55" y="804.46" font-size="29.58" font-weight="bold" textLength="88.63" lengthAdjust="spacingAndGlyphs">5.0x10</text>
<text x="158.84" y="786.86" font-size="16.92" font-weight="bold" textLength="15.95" lengthAdjust="spacingAndGlyphs">-4</text>
<text x="69.09" y="753.65" font-size="29.58" font-weight="bold" textLength="89.09" lengthAdjust="spacingAndGlyphs">6.0x10</text>
<text x="158.84" y="736.05" font-size="16.92" font-weight="bold" textLength="15.95" lengthAdjust="spacingAndGlyphs">-4</text>
<text x="69.09" y="702.84" font-size="29.58" font-weight="bold" textLength="89.09" lengthAdjust="spacingAndGlyphs">7.0x10</text>
<text x="158.84" y="685.24" font-size="16.92" font-weight="bold" textLength="15.95" lengthAdjust="spacingAndGlyphs">-4</text>
<text x="69.09" y="652.03" font-size="29.58" font-weight="bold" textLength="89.09" lengthAdjust="spacingAndGlyphs">8.0x10</text>
<text x="158.84" y="634.43" font-size="16.92" font-weight="bold" textLength="15.95" lengthAdjust="spacingAndGlyphs">-4</text>
<text x="134.06" y="1053.60" font-size="29.30" font-weight="bold" textLength="41.97" lengthAdjust="spacingAndGlyphs">0.0</text>
<text x="177.01" y="1123.30" font-size="27.73" font-weight="bold" textLength="16.65" lengthAdjust="spacingAndGlyphs">0</text>
<text x="354.98" y="1123.30" font-size="27.73" font-weight="bold" textLength="33.17" lengthAdjust="spacingAndGlyphs">50</text>
<text x="530.35" y="1123.30" font-size="27.73" font-weight="bold" textLength="50.63" lengthAdjust="spacingAndGlyphs">100</text>
<text x="715.75" y="1123.30" font-size="27.73" font-weight="bold" textLength="50.63" lengthAdjust="spacingAndGlyphs">150</text>
<text x="419.00" y="1184.30" font-size="33.85" font-weight="bold" textLength="125.89" lengthAdjust="spacingAndGlyphs">Time (s)</text>
<text x="1077.88" y="648.80" font-size="22.76" font-weight="bold" textLength="93.65" lengthAdjust="spacingAndGlyphs">Input 0,0</text>
<text x="1227.08" y="648.80" font-size="22.76" font-weight="bold" textLength="93.65" lengthAdjust="spacingAndGlyphs">Input 1,0</text>
<text x="1369.29" y="649.80" font-size="22.76" font-weight="bold" textLength="92.57" lengthAdjust="spacingAndGlyphs">Input 0,1</text>
<text x="1529.10" y="648.80" font-size="22.76" font-weight="bold" textLength="92.16" lengthAdjust="spacingAndGlyphs">Input 1,1</text>
<text x="1287.13" y="599.10" font-size="29.30" font-weight="bold" textLength="41.25" lengthAdjust="spacingAndGlyphs">N=</text>
<text x="1338.95" y="599.10" font-size="29.30" font-weight="bold" textLength="33.67" lengthAdjust="spacingAndGlyphs">20</text>
<text x="1150.20" y="708.00" font-size="22.90" font-weight="bold" textLength="131.62" lengthAdjust="spacingAndGlyphs">Noise signal</text>
<text x="1150.20" y="739.30" font-size="22.90" font-weight="bold" textLength="95.61" lengthAdjust="spacingAndGlyphs">Error bar</text>
<text x="1077.08" y="942.10" font-size="27.31" font-weight="bold" fill="#EB0F14" textLength="108.48" lengthAdjust="spacingAndGlyphs">Output 1</text>
<text x="1078.94" y="1078.70" font-size="26.88" font-weight="bold" fill="#1FEA1F" textLength="113.38" lengthAdjust="spacingAndGlyphs">Output 0</text>
<text x="957.90" y="625.83" font-size="28.73" font-weight="bold" textLength="64.17" lengthAdjust="spacingAndGlyphs">1x10</text>
<text x="1024.04" y="608.93" font-size="17.35" font-weight="bold" textLength="15.84" lengthAdjust="spacingAndGlyphs">-4</text>
<text x="957.97" y="669.30" font-size="28.73" font-weight="bold" textLength="66.24" lengthAdjust="spacingAndGlyphs">9x10</text>
<text x="1024.45" y="652.70" font-size="17.21" font-weight="bold" textLength="15.69" lengthAdjust="spacingAndGlyphs">-5</text>
<text x="957.97" y="712.77" font-size="28.73" font-weight="bold" textLength="66.24" lengthAdjust="spacingAndGlyphs">8x10</text>
<text x="1024.45" y="696.17" font-size="17.21" font-weight="bold" textLength="15.69" lengthAdjust="spacingAndGlyphs">-5</text>
<text x="957.97" y="756.24" font-size="28.73" font-weight="bold" textLength="66.24" lengthAdjust="spacingAndGlyphs">7x10</text>
<text x="1024.45" y="739.64" font-size="17.21" font-weight="bold" textLength="15.69" lengthAdjust="spacingAndGlyphs">-5</text>
<text x="957.97" y="799.71" font-size="28.73" font-weight="bold" textLength="66.24" lengthAdjust="spacingAndGlyphs">6x10</text>
<text x="1024.45" y="783.11" font-size="17.21" font-weight="bold" textLength="15.69" lengthAdjust="spacingAndGlyphs">-5</text>
<text x="958.44" y="843.18" font-size="28.73" font-weight="bold" textLength="65.76" lengthAdjust="spacingAndGlyphs">5x10</text>
<text x="1024.45" y="826.58" font-size="17.21" font-weight="bold" textLength="15.69" lengthAdjust="spacingAndGlyphs">-5</text>
<text x="958.90" y="886.65" font-size="28.73" font-weight="bold" textLength="65.29" lengthAdjust="spacingAndGlyphs">4x10</text>
<text x="1024.45" y="870.05" font-size="17.21" font-weight="bold" textLength="15.69" lengthAdjust="spacingAndGlyphs">-5</text>
<text x="958.44" y="930.12" font-size="28.73" font-weight="bold" textLength="65.76" lengthAdjust="spacingAndGlyphs">3x10</text>
<text x="1024.45" y="913.52" font-size="17.21" font-weight="bold" textLength="15.69" lengthAdjust="spacingAndGlyphs">-5</text>
<text x="957.97" y="973.59" font-size="28.73" font-weight="bold" textLength="66.24" lengthAdjust="spacingAndGlyphs">2x10</text>
<text x="1024.45" y="956.99" font-size="17.21" font-weight="bold" textLength="15.69" lengthAdjust="spacingAndGlyphs">-5</text>
<text x="957.01" y="1017.06" font-size="28.73" font-weight="bold" textLength="67.21" lengthAdjust="spacingAndGlyphs">1x10</text>
<text x="1024.45" y="1000.46" font-size="17.21" font-weight="bold" textLength="15.69" lengthAdjust="spacingAndGlyphs">-5</text>
<text x="1024.16" y="1055.60" font-size="28.44" font-weight="bold" textLength="16.76" lengthAdjust="spacingAndGlyphs">0</text>
<text x="947.06" y="1104.00" font-size="28.73" font-weight="bold" textLength="77.17" lengthAdjust="spacingAndGlyphs">-1x10</text>
<text x="1024.45" y="1087.10" font-size="17.35" font-weight="bold" textLength="15.69" lengthAdjust="spacingAndGlyphs">-5</text>
<text x="1042.23" y="1122.80" font-size="27.73" font-weight="bold" textLength="17.22" lengthAdjust="spacingAndGlyphs">0</text>
<text x="1219.88" y="1122.80" font-size="27.73" font-weight="bold" textLength="33.17" lengthAdjust="spacingAndGlyphs">50</text>
<text x="1395.28" y="1122.80" font-size="27.73" font-weight="bold" textLength="51.16" lengthAdjust="spacingAndGlyphs">100</text>
<text x="1580.68" y="1122.80" font-size="27.73" font-weight="bold" textLength="51.16" lengthAdjust="spacingAndGlyphs">150</text>
<text x="1273.60" y="1183.60" font-size="34.13" font-weight="bold" textLength="78.24" lengthAdjust="spacingAndGlyphs">Time</text>
<text x="1378.83" y="1183.60" font-size="34.13" font-weight="bold" textLength="40.88" lengthAdjust="spacingAndGlyphs">(s)</text>
<g transform="translate(51.0,933.3) rotate(-90)"><text x="-1.05" y="0.00" font-size="35.56" font-weight="bold" textLength="177.06" lengthAdjust="spacingAndGlyphs">Current (A)</text></g>
<g transform="translate(910.0,977.0) rotate(-90)"><text x="-0.19" y="0.00" font-size="33.99" font-weight="bold" font-style="italic" textLength="12.35" lengthAdjust="spacingAndGlyphs">I</text><text x="9.00" y="11.40" font-size="21.46" font-weight="bold" font-style="italic" textLength="11.62" lengthAdjust="spacingAndGlyphs">n</text><text x="31.44" y="-0.60" font-size="32.28" font-weight="bold" font-style="italic" stroke="#000" stroke-width="1.2" textLength="9.15" lengthAdjust="spacingAndGlyphs">/</text><text x="57.11" y="-0.73" font-size="29.18" stroke="#000" stroke-width="0.9" textLength="17.99" lengthAdjust="spacingAndGlyphs">&lt;</text><text x="80.61" y="0.00" font-size="33.99" font-weight="bold" font-style="italic" textLength="12.35" lengthAdjust="spacingAndGlyphs">I</text><text x="90.06" y="11.40" font-size="21.46" font-weight="bold" font-style="italic" textLength="12.90" lengthAdjust="spacingAndGlyphs">p</text><text x="104.74" y="-0.73" font-size="29.18" stroke="#000" stroke-width="0.9" textLength="17.52" lengthAdjust="spacingAndGlyphs">&gt;</text><text x="125.79" y="-20.50" font-size="20.20" font-weight="bold" textLength="31.27" lengthAdjust="spacingAndGlyphs">1/2</text><text x="183.21" y="0.00" font-size="34.84" font-weight="bold" textLength="35.84" lengthAdjust="spacingAndGlyphs">(A</text><text x="218.21" y="-20.50" font-size="20.20" font-weight="bold" textLength="33.19" lengthAdjust="spacingAndGlyphs">1/2</text><text x="252.00" y="0.00" font-size="34.84" font-weight="bold" >)</text></g>
</svg>
</body></html>
